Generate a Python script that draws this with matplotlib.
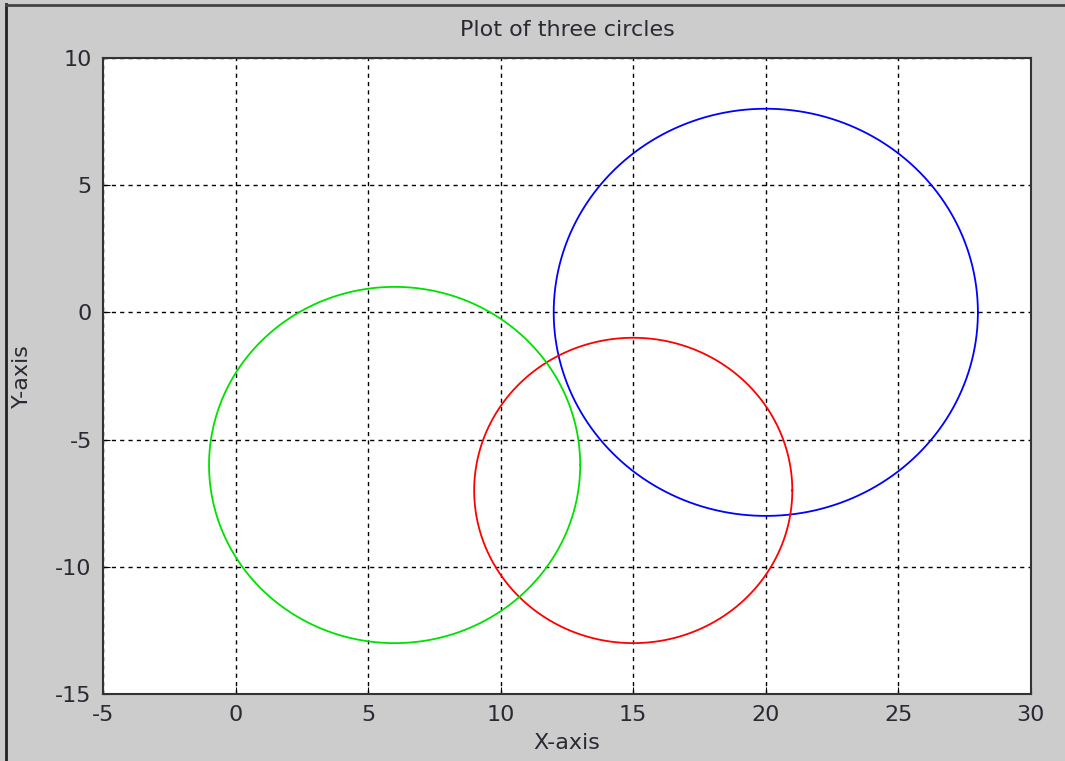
import numpy as np
import matplotlib
matplotlib.use("Agg")
import matplotlib.pyplot as plt
from matplotlib.lines import Line2D

plt.rcParams["font.family"] = ["DejaVu Sans"]
plt.rcParams["axes.unicode_minus"] = False

# circle data
centers_x = [20, 15, 6]
centers_y = [0, -7, -6]
radii = [8, 6, 7]
colors = ["#0000ff", "#ff0000", "#00e000"]

x_ticks = [-5, 0, 5, 10, 15, 20, 25, 30]
y_ticks = [-15, -10, -5, 0, 5, 10]

fig = plt.figure(figsize=(10.65, 7.61), dpi=100, facecolor="#cccccc")
ax = fig.add_axes([0.0967, 0.088, 0.8713, 0.836])
ax.set_facecolor("white")

theta = np.linspace(0, 2 * np.pi, 400)
for cx, cy, r, c in zip(centers_x, centers_y, radii, colors):
    ax.plot(cx + r * np.cos(theta), cy + r * np.sin(theta), color=c, lw=1.3)

ax.set_xlim(-5, 30)
ax.set_ylim(-15, 10)
ax.set_xticks(x_ticks)
ax.set_yticks(y_ticks)
ax.grid(True, color="black", linestyle=(0, (3, 3)), lw=1.0)
ax.tick_params(direction="in", length=5, labelsize=16, colors="black",
               labelcolor="#2a2a33")
ax.tick_params(axis="x", pad=8)
ax.tick_params(axis="y", pad=8)
for s in ax.spines.values():
    s.set_color("#333333")
    s.set_linewidth(1.5)

ax.set_title("Plot of three circles", fontsize=16, color="#2a2a33", pad=16)
ax.set_xlabel("X-axis", fontsize=16, color="#2a2a33", labelpad=6)
ax.set_ylabel("Y-axis", fontsize=16, color="#2a2a33", labelpad=17)

# window border
fig.add_artist(Line2D([0.006, 0.006], [0, 0.995], transform=fig.transFigure,
                      color="#222222", lw=2))
fig.add_artist(Line2D([0.006, 1], [0.994, 0.994], transform=fig.transFigure,
                      color="#444444", lw=2))

fig.savefig("out.png", dpi=100, facecolor=fig.get_facecolor())
